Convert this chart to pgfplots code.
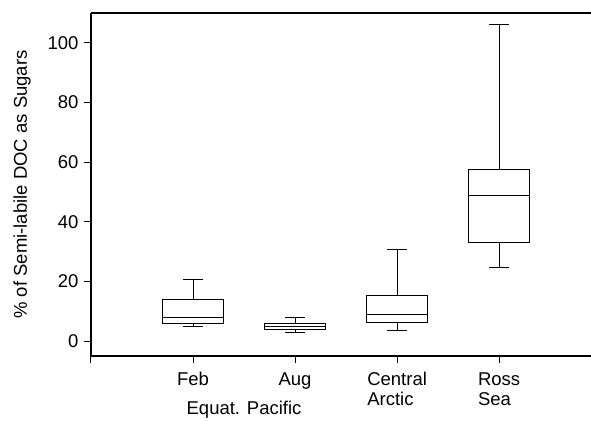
\documentclass[border=0pt]{standalone}
\usepackage{fontspec}
\setmainfont{Liberation Sans}
\usepackage{pgfplots}
\pgfplotsset{compat=1.18}
\usepgfplotslibrary{statistics}
\newcommand{\lblfont}{\fontsize{18.5}{20}\selectfont}
\begin{document}
\begin{tikzpicture}
\useasboundingbox (-91pt,-64pt) rectangle (500pt,356pt);
\begin{axis}[
  at={(0pt,0pt)}, anchor=south west,
  scale only axis, width=500pt, height=343pt,
  xmin=0, xmax=4.9, ymin=-5, ymax=110,
  axis x line*=bottom, axis y line*=left,
  axis line style={line width=1.6pt, -},
  tick align=outside, tick style={line width=1pt, black},
  major tick length=7pt,
  xtick={0,1,2,3,4},
  xticklabels={{},Feb,Aug,{Central\\Arctic},{Ross\\Sea}},
  xticklabel style={align=left, anchor=north, yshift=-6pt, font=\lblfont},
  ytick={0,20,40,60,80,100},
  yticklabel style={font=\lblfont, xshift=-2pt},
  /pgf/number format/assume math mode=true,
  ylabel={\% of Semi-labile DOC as Sugars},
  ylabel style={font=\lblfont, yshift=10pt},
  clip=false,
  boxplot/draw direction=y,
  boxplot/box extend=0.6,
  boxplot/whisker extend=0.2,
]
\addplot+[black, line width=1pt, solid, mark=none, boxplot prepared={lower whisker=5.0, lower quartile=6.0, median=8.0, upper quartile=14.0, upper whisker=20.5, draw position=1}] coordinates {};
\addplot+[black, line width=1pt, solid, mark=none, boxplot prepared={lower whisker=2.9, lower quartile=3.9, median=5.0, upper quartile=5.9, upper whisker=7.8, draw position=2}] coordinates {};
\addplot+[black, line width=1pt, solid, mark=none, boxplot prepared={lower whisker=3.7, lower quartile=6.3, median=9.0, upper quartile=15.4, upper whisker=30.6, draw position=3}] coordinates {};
\addplot+[black, line width=1pt, solid, mark=none, boxplot prepared={lower whisker=24.8, lower quartile=33.0, median=48.8, upper quartile=57.5, upper whisker=106.1, draw position=4}] coordinates {};
\draw[line width=1.6pt] (rel axis cs:0,1) -- (rel axis cs:1,1);
\node[font=\lblfont] at (axis cs:1.5,-5) [yshift=-54pt] {Equat. Pacific};
\end{axis}
\end{tikzpicture}
\end{document}
